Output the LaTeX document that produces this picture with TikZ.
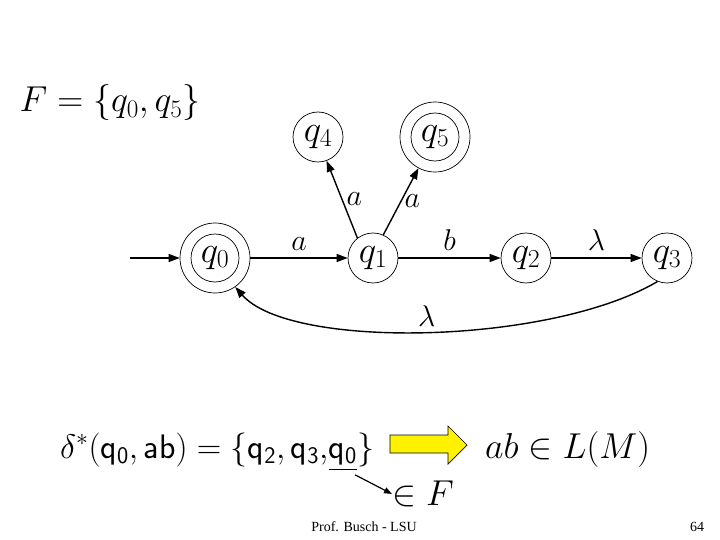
\RequirePackage{fix-cm}
\documentclass[tikz,border=0pt]{standalone}
\usepackage{fontspec}
\newfontfamily\timesfont{Liberation Serif}
\usetikzlibrary{arrows.meta}
\begin{document}
\begin{tikzpicture}[x=1pt,y=-1pt,
  state/.style={circle,draw,line width=0.7pt,minimum size=50pt,inner sep=0pt,font=\fontsize{37}{40}\selectfont},
  accept/.style={circle,draw,line width=0.7pt,minimum size=70pt,inner sep=0pt,font=\fontsize{37}{40}\selectfont,
     path picture={\draw[line width=0.7pt] (path picture bounding box.center) circle (24pt);}},
  trans/.style={-{Triangle[length=11pt,width=8pt]},line width=1.4pt},
  lbl/.style={font=\fontsize{30}{32}\selectfont,inner sep=0pt},
  big/.style={inner sep=0pt,font=\fontsize{36}{42}\selectfont},
  eqs/.style={inner sep=0pt,font=\fontsize{34}{40}\selectfont}]
\useasboundingbox (0,0) rectangle (720,540);

\node[big] (Fset) at (110,103) {$F=\bigl\{q_0,q_5\bigr\}$};

\node[accept] (q0) at (215,258) {$q_0$};
\node[state] (q1) at (373,258) {$q_1$};
\node[state] (q2) at (526,258) {$q_2$};
\node[state] (q3) at (667,258) {$q_3$};
\node[state] (q4) at (318,137) {$q_4$};
\node[accept] (q5) at (435,137) {$q_5$};
\coordinate (start) at (130,258);

\draw[trans] (start) -- (q0);
\draw[trans] (q0) -- node[lbl,above=7pt] {$a$} (q1);
\draw[trans] (q1) -- node[lbl,above=7pt] {$b$} (q2);
\draw[trans] (q2) -- node[lbl,above=7pt] {$\lambda$} (q3);
\draw[trans] (q1.128) -- node[lbl,pos=0.5,right=4pt] {$a$} (q4.-70);
\draw[trans] (q1.66) -- node[lbl,pos=0.5,right=3pt] {$a$} (q5.-118);
\draw[trans] (q3.-112) .. controls (550,345) and (290,350) .. node[lbl,pos=0.5,above=4pt] {$\lambda$} (q0.-55);

\node[eqs,anchor=base west] (eq) at (60,458) {$\delta^*\Bigl(\mathsf{q_0,ab}\Bigr)=\Bigl\{\mathsf{q_2,q_3,}$};
\node[eqs,anchor=base west] (lastq) at (eq.base east) {$\mathsf{q_0}$};
\node[eqs,anchor=base west] (close) at (lastq.base east) {$\Bigr\}$};
\draw[line width=1pt] ([yshift=-5pt]lastq.south west) -- ([yshift=-5pt]lastq.south east);

\draw[fill=yellow,draw=black,line width=0.7pt] (390,435) -- (448,435) -- (448,426) -- (467,445) -- (448,464) -- (448,453) -- (390,453) -- cycle;
\node[big,anchor=base west] (inL) at (485,458) {$ab\in L\Bigl(M\Bigr)$};

\node[big,anchor=west] (inF) at (392,494) {$\in F$};
\draw[-{Triangle[length=8pt,width=6pt]},line width=1.2pt] ([xshift=-2pt,yshift=-10pt]lastq.south east) -- (inF.west);

\node[font=\timesfont\fontsize{14}{16}\selectfont] (foot) at (364,527) {Prof. Busch - LSU};
\node[font=\timesfont\fontsize{14}{16}\selectfont] (page) at (697,527) {64};
\end{tikzpicture}
\end{document}
